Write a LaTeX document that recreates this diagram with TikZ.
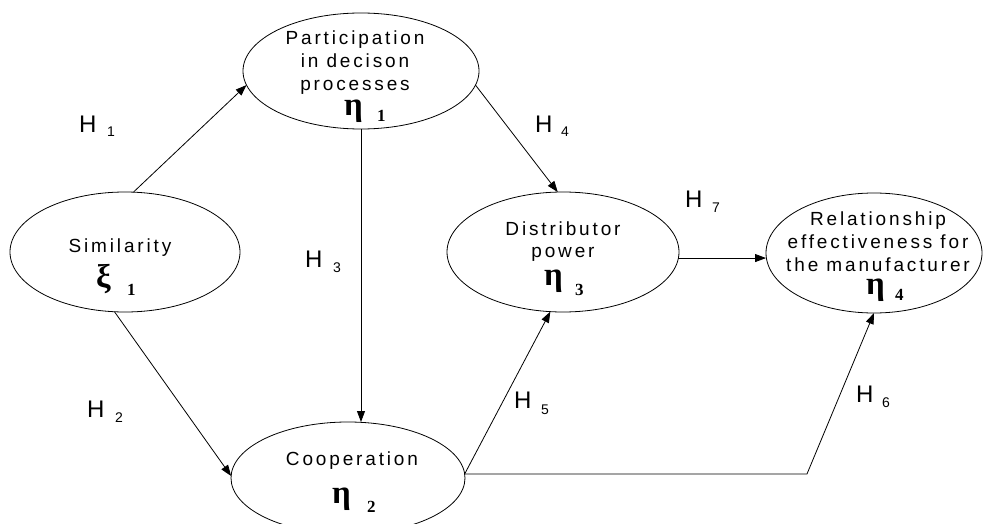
\documentclass[tikz,border=0pt]{standalone}
\usepackage{fontspec}
\setmainfont{Liberation Sans}
\newfontfamily\nodefont{Liberation Sans}[LetterSpace=15]
\newfontfamily\grkfont{Liberation Serif}
\usetikzlibrary{shapes.geometric,arrows.meta}
\begin{document}
\begin{tikzpicture}[x=1pt,y=-1pt,
  oval/.style={draw, ellipse, line width=0.8pt, inner sep=0pt, outer sep=0pt},
  txt/.style={inner sep=0pt, anchor=base, font=\nodefont\fontsize{19}{23}\selectfont},
  hl/.style={inner sep=0pt, anchor=base west, font=\fontsize{24}{24}\selectfont},
  hs/.style={inner sep=0pt, anchor=base west, font=\fontsize{14}{14}\selectfont},
  gk/.style={inner sep=0pt, anchor=base west, font=\grkfont\bfseries\fontsize{33}{33}\selectfont},
  gs/.style={inner sep=0pt, anchor=base west, font=\grkfont\bfseries\fontsize{17}{17}\selectfont},
  arr/.style={line width=0.8pt, -{Triangle[length=11pt,width=8pt]}}
]
\useasboundingbox (0,0) rectangle (985,524);

% ellipses
\node[oval, minimum width=230pt, minimum height=120pt] (sim)  at (125,252) {};
\node[oval, minimum width=236pt, minimum height=116pt] (part) at (361,71) {};
\node[oval, minimum width=232pt, minimum height=120pt] (dist) at (563,252) {};
\node[oval, minimum width=216pt, minimum height=120pt] (rel)  at (874,253) {};
\node[oval, minimum width=234pt, minimum height=112pt] (coop) at (348,478) {};

% texts
\node[txt] (simT) at (120,252) {Similarity};
\node[gk] (simG) at (96,287) {ξ};
\node[gs] (simS) at (127,295) {1};

\node[txt] (partT1) at (355,45) {Participation};
\node[txt] (partT2) at (355,68) {in decison};
\node[txt] (partT3) at (355,91) {processes};
\node[gk] (partG) at (344,116) {η};
\node[gs] (partS) at (377,122) {1};

\node[txt] (distT1) at (563,235) {Distributor};
\node[txt] (distT2) at (563,257) {power};
\node[gk] (distG) at (544,285) {η};
\node[gs] (distS) at (575,295) {3};

\node[txt] (relT1) at (878,225) {Relationship};
\node[txt] (relT2) at (878,248) {effectiveness for};
\node[txt] (relT3) at (878,271) {the manufacturer};
\node[gk] (relG) at (866,294) {η};
\node[gs] (relS) at (895,300) {4};

\node[txt] (coopT) at (352,465) {Cooperation};
\node[gk] (coopG) at (332,503) {η};
\node[gs] (coopS) at (367,512) {2};

% hypothesis labels
\node[hl] (h1) at (79,132) {H};  \node[hs] (h1s) at (107,137) {1};
\node[hl] (h2) at (87,417) {H};  \node[hs] (h2s) at (115,422) {2};
\node[hl] (h3) at (305,267) {H}; \node[hs] (h3s) at (333,272) {3};
\node[hl] (h4) at (535,132) {H}; \node[hs] (h4s) at (561,137) {4};
\node[hl] (h5) at (514,408) {H}; \node[hs] (h5s) at (541,414) {5};
\node[hl] (h6) at (856,402) {H}; \node[hs] (h6s) at (882,407) {6};
\node[hl] (h7) at (685,207) {H}; \node[hs] (h7s) at (712,212) {7};

% connectors
\coordinate (bend) at (807,475);
\draw[arr] (sim.82) -- (part.187);
\draw[arr] (sim.260) -- (coop.179);
\draw[arr] (part.south) -- (part.south |- coop.north);
\draw[arr] (part.-7) -- (dist.95);
\draw[arr] (coop.2) -- (dist.258);
\draw[arr] (dist.-3.5) -- (dist.-3.5 -| rel.west);
\draw[arr] (coop.2) -- (coop.2 -| bend) -- (rel.south);
\end{tikzpicture}
\end{document}
